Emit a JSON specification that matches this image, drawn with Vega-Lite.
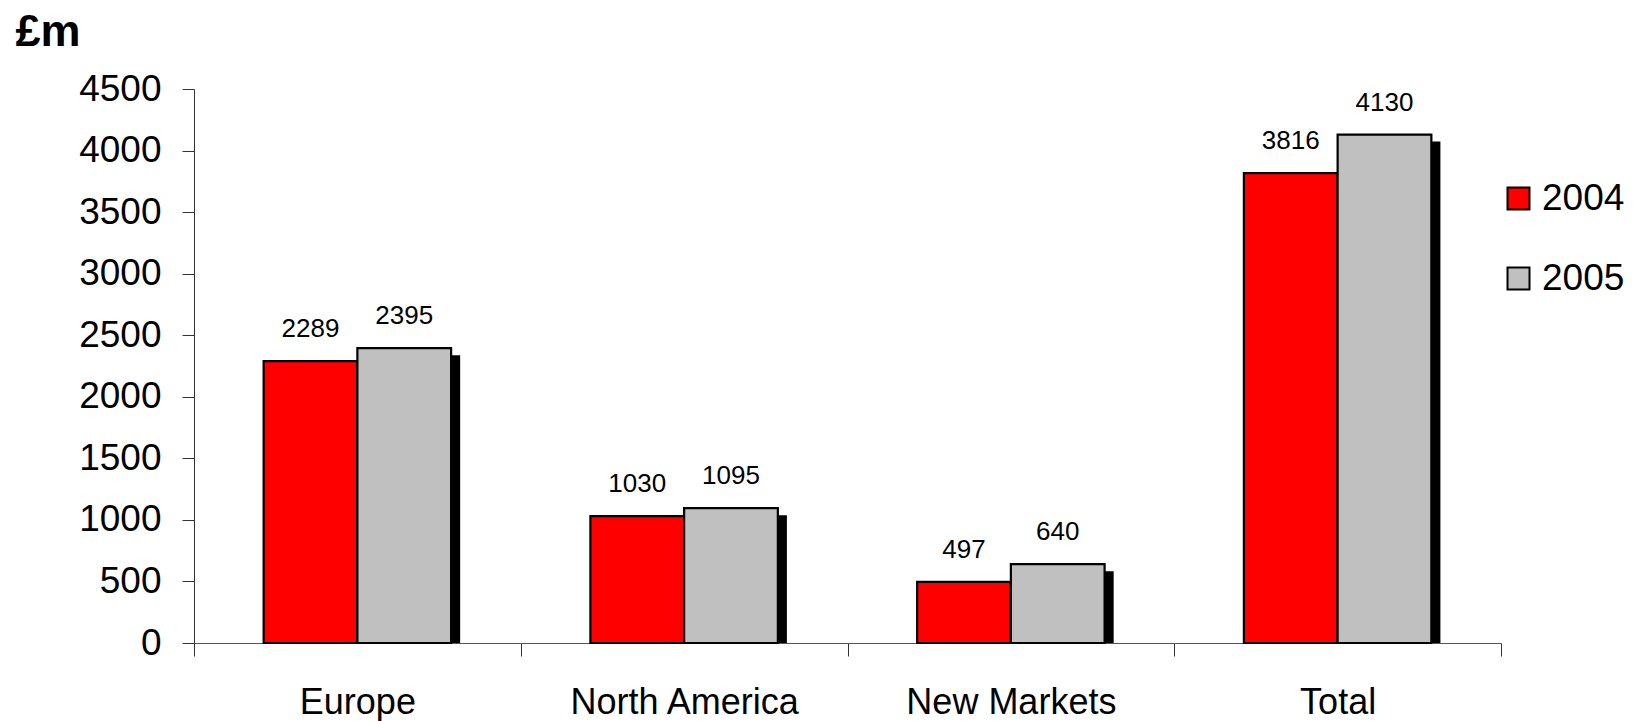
{
  "$schema": "https://vega.github.io/schema/vega-lite/v6.json",
  "autosize": "none",
  "width": 1307,
  "height": 554,
  "padding": {"left": 194, "top": 89, "right": 133, "bottom": 78},
  "background": "white",
  "config": {
    "view": {"stroke": null},
    "font": "Liberation Sans"
  },
  "data": {
    "values": [
      {"region": "Europe", "year": "2004", "value": 2289},
      {"region": "Europe", "year": "2005", "value": 2395},
      {"region": "North America", "year": "2004", "value": 1030},
      {"region": "North America", "year": "2005", "value": 1095},
      {"region": "New Markets", "year": "2004", "value": 497},
      {"region": "New Markets", "year": "2005", "value": 640},
      {"region": "Total", "year": "2004", "value": 3816},
      {"region": "Total", "year": "2005", "value": 4130}
    ]
  },
  "encoding": {
    "x": {
      "field": "region",
      "type": "nominal",
      "sort": ["Europe", "North America", "New Markets", "Total"],
      "scale": {"paddingInner": 0, "paddingOuter": 0},
      "axis": {
        "title": null,
        "labelAngle": 0,
        "labelFontSize": 36,
        "labelColor": "black",
        "labelPadding": 29,
        "labelLimit": 0,
        "tickBand": "extent",
        "tickSize": 13,
        "tickColor": "#333",
        "domainColor": "#555",
        "labelFont": "Liberation Sans"
      }
    },
    "y": {
      "field": "value",
      "type": "quantitative",
      "scale": {"domain": [0, 4500], "nice": false},
      "axis": {
        "title": "£m",
        "titleAngle": 0,
        "titleFontSize": 45,
        "titleFontWeight": "bold",
        "titleFont": "Liberation Sans",
        "titleAlign": "left",
        "titleBaseline": "alphabetic",
        "titleX": -179,
        "titleY": -44,
        "titleColor": "black",
        "format": "d",
        "values": [0, 500, 1000, 1500, 2000, 2500, 3000, 3500, 4000, 4500],
        "labelFontSize": 37,
        "labelColor": "black",
        "labelPadding": 21,
        "tickSize": 12,
        "tickColor": "#333",
        "domainColor": "#333",
        "grid": false
      }
    }
  },
  "layer": [
    {
      "mark": {"type": "bar", "fill": "black", "yOffset": 7, "clip": true},
      "encoding": {
        "xOffset": {
          "field": "year",
          "type": "nominal",
          "scale": {"paddingOuter": 0.743, "paddingInner": 0, "align": 0.565}
        }
      }
    },
    {
      "layer": [
        {
          "mark": {"type": "bar", "stroke": "black", "strokeWidth": 2.2},
          "encoding": {
            "fill": {
              "field": "year",
              "type": "nominal",
              "scale": {"domain": ["2004", "2005"], "range": ["#FF0000", "#C0C0C0"]},
              "legend": {
                "title": null,
                "orient": "none",
                "legendX": 1306,
                "legendY": 91,
                "padding": 0,
                "symbolType": "square",
                "symbolSize": 484,
                "symbolStrokeColor": "black",
                "symbolStrokeWidth": 2,
                "symbolOffset": 0,
                "labelFontSize": 37,
                "labelColor": "black",
                "labelOffset": 5,
                "labelLimit": 0,
                "rowPadding": 42
              }
            }
          }
        },
        {
          "mark": {"type": "text", "dy": -24, "baseline": "alphabetic", "fontSize": 26, "color": "black"},
          "encoding": {"text": {"field": "value", "type": "quantitative"}}
        }
      ],
      "encoding": {
        "xOffset": {
          "field": "year",
          "type": "nominal",
          "scale": {"paddingOuter": 0.743, "paddingInner": 0}
        }
      }
    }
  ],
  "resolve": {"scale": {"xOffset": "independent"}}
}
